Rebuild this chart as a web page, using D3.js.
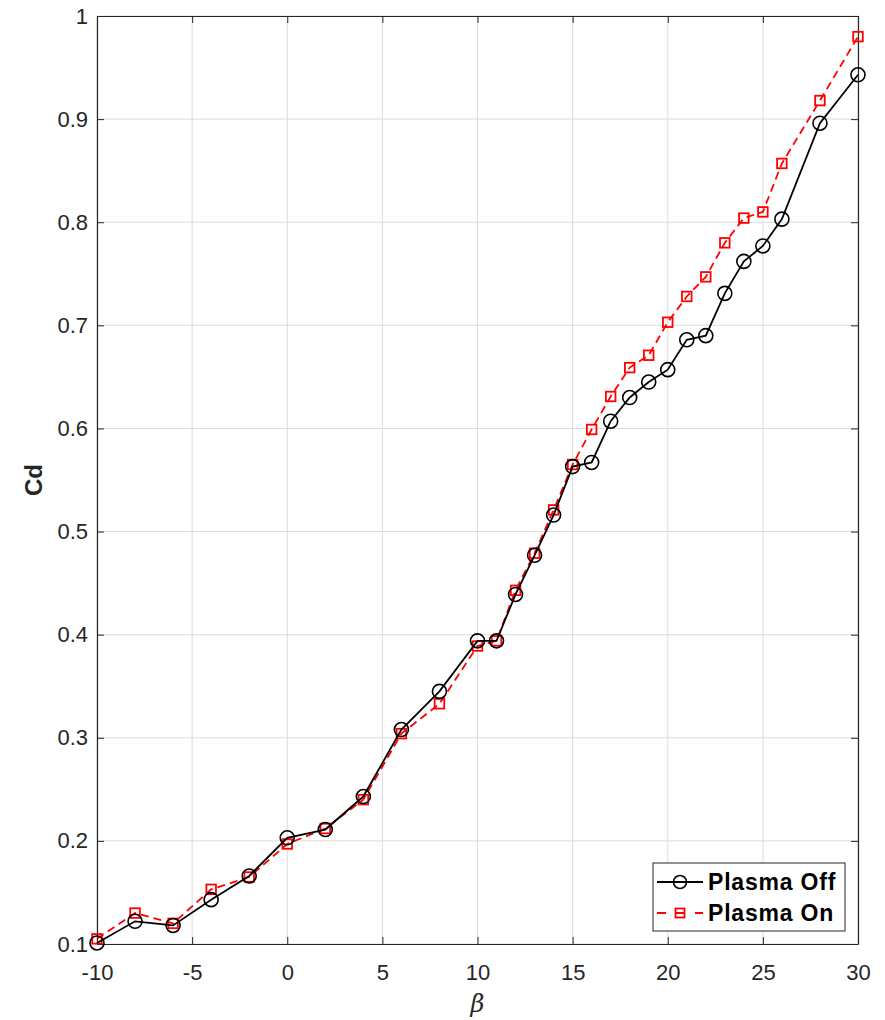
<!DOCTYPE html>
<html>
<head>
<meta charset="utf-8">
<script src="https://cdn.jsdelivr.net/npm/d3@7"></script>
<style>
  html, body { margin: 0; padding: 0; background: #fff; }
  svg { display: block; font-family: "Liberation Sans", Arial, sans-serif; }
</style>
</head>
<body>
<svg id="chart" width="885" height="1020"></svg>
<script>
// Drag coefficient vs. sideslip angle, with and without plasma actuation
const betaOff = [-10, -8, -6, -4, -2, 0, 2, 4, 6, 8, 10, 11, 12, 13, 14, 15, 16, 17, 18, 19, 20, 21, 22, 23, 24, 25, 26, 28, 30];
const cdOff   = [0.101, 0.122, 0.118, 0.143, 0.166, 0.203, 0.211, 0.243, 0.308, 0.345, 0.394, 0.394, 0.439, 0.477, 0.516, 0.563, 0.567, 0.607, 0.630, 0.645, 0.657, 0.686, 0.690, 0.731, 0.762, 0.777, 0.803, 0.896, 0.943];
const betaOn  = [-10, -8, -6, -4, -2, 0, 2, 4, 6, 8, 10, 11, 12, 13, 14, 15, 16, 17, 18, 19, 20, 21, 22, 23, 24, 25, 26, 28, 30];
const cdOn    = [0.105, 0.130, 0.120, 0.153, 0.165, 0.197, 0.212, 0.240, 0.304, 0.333, 0.389, 0.394, 0.443, 0.479, 0.521, 0.565, 0.599, 0.631, 0.659, 0.671, 0.703, 0.728, 0.747, 0.780, 0.804, 0.810, 0.857, 0.918, 0.980];
const xTicks = [-10, -5, 0, 5, 10, 15, 20, 25, 30];
const yTicks = [0.1, 0.2, 0.3, 0.4, 0.5, 0.6, 0.7, 0.8, 0.9, 1];
const seriesNames = ["Plasma Off", "Plasma On"];

const svg = d3.select("#chart");
const L = 97, R = 858, T = 16, B = 944;
const x = d3.scaleLinear().domain([-10, 30]).range([L, R]);
const y = d3.scaleLinear().domain([0.1, 1]).range([B, T]);
const axisCol = "#262626";

// grid
const grid = svg.append("g");
grid.selectAll("line.gx").data(xTicks).join("line")
  .attr("x1", d => x(d)).attr("x2", d => x(d)).attr("y1", T).attr("y2", B)
  .attr("stroke", "#dcdcdc").attr("stroke-width", 1);
grid.selectAll("line.gy").data(yTicks).join("line")
  .attr("y1", d => y(d)).attr("y2", d => y(d)).attr("x1", L).attr("x2", R)
  .attr("stroke", "#dcdcdc").attr("stroke-width", 1);

// axes (ticks point inward, box on)
function styleAxis(g) {
  g.select(".domain").attr("stroke", axisCol).attr("stroke-width", 1.2);
  g.selectAll(".tick line").attr("stroke", axisCol).attr("stroke-width", 1);
  g.selectAll(".tick text").attr("fill", axisCol).attr("font-size", 22);
}
const fmt = d => String(d);
svg.append("g").attr("transform", `translate(0,${B})`)
  .call(d3.axisBottom(x).tickValues(xTicks).tickSizeInner(-7).tickSizeOuter(0).tickPadding(20).tickFormat(fmt))
  .call(styleAxis);
svg.append("g").attr("transform", `translate(0,${T})`)
  .call(d3.axisTop(x).tickValues(xTicks).tickSizeInner(-7).tickSizeOuter(0).tickFormat(""))
  .call(styleAxis);
svg.append("g").attr("transform", `translate(${L},0)`)
  .call(d3.axisLeft(y).tickValues(yTicks).tickSizeInner(-7).tickSizeOuter(0).tickPadding(9).tickFormat(fmt))
  .call(styleAxis);
svg.append("g").attr("transform", `translate(${R},0)`)
  .call(d3.axisRight(y).tickValues(yTicks).tickSizeInner(-7).tickSizeOuter(0).tickFormat(""))
  .call(styleAxis);

// axis labels
svg.append("text").attr("x", x(10)).attr("y", 1012).attr("text-anchor", "middle")
  .attr("font-size", 24).attr("font-style", "italic").attr("fill", axisCol)
  .attr("font-family", "DejaVu Serif, serif").text("β");
svg.append("text").attr("transform", `translate(42,${(T + B) / 2}) rotate(-90)`)
  .attr("text-anchor", "middle").attr("font-size", 24).attr("font-weight", "bold")
  .attr("fill", axisCol).text("Cd");

const line = d3.line().x(d => x(d[0])).y(d => y(d[1]));
const dataOff = betaOff.map((b, i) => [b, cdOff[i]]);
const dataOn = betaOn.map((b, i) => [b, cdOn[i]]);

// Plasma On: red dashed, square markers
svg.append("path").datum(dataOn).attr("d", line).attr("fill", "none")
  .attr("stroke", "#ff0000").attr("stroke-width", 1.8).attr("stroke-dasharray", "8,5");
svg.append("g").selectAll("rect").data(dataOn).join("rect")
  .attr("x", d => x(d[0]) - 4.8).attr("y", d => y(d[1]) - 4.8)
  .attr("width", 9.6).attr("height", 9.6)
  .attr("fill", "none").attr("stroke", "#ff0000").attr("stroke-width", 1.8);

// Plasma Off: black solid, circle markers
svg.append("path").datum(dataOff).attr("d", line).attr("fill", "none")
  .attr("stroke", "#000").attr("stroke-width", 1.8);
svg.append("g").selectAll("circle").data(dataOff).join("circle")
  .attr("cx", d => x(d[0])).attr("cy", d => y(d[1])).attr("r", 7)
  .attr("fill", "none").attr("stroke", "#000").attr("stroke-width", 1.6);

// legend
const lg = svg.append("g");
lg.append("rect").attr("x", 653).attr("y", 863).attr("width", 192).attr("height", 68)
  .attr("fill", "#fff").attr("stroke", "#262626").attr("stroke-width", 1);
const lx1 = 657, lx2 = 703, lxm = (lx1 + lx2) / 2;
const ly1 = 882, ly2 = 913;
lg.append("line").attr("x1", lx1).attr("x2", lx2).attr("y1", ly1).attr("y2", ly1)
  .attr("stroke", "#000").attr("stroke-width", 1.8);
lg.append("circle").attr("cx", lxm).attr("cy", ly1).attr("r", 6.5)
  .attr("fill", "none").attr("stroke", "#000").attr("stroke-width", 1.6);
lg.append("line").attr("x1", lx1).attr("x2", lx2).attr("y1", ly2).attr("y2", ly2)
  .attr("stroke", "#ff0000").attr("stroke-width", 1.8).attr("stroke-dasharray", "9,10");
lg.append("rect").attr("x", lxm - 4.5).attr("y", ly2 - 4.5).attr("width", 9).attr("height", 9)
  .attr("fill", "none").attr("stroke", "#ff0000").attr("stroke-width", 1.8);
lg.selectAll("text").data(seriesNames).join("text")
  .attr("x", 708).attr("y", (d, i) => i === 0 ? ly1 + 8 : ly2 + 8)
  .attr("font-size", 23).attr("font-weight", "bold").attr("letter-spacing", 0.8)
  .attr("fill", "#000").text(d => d);
</script>
</body>
</html>
